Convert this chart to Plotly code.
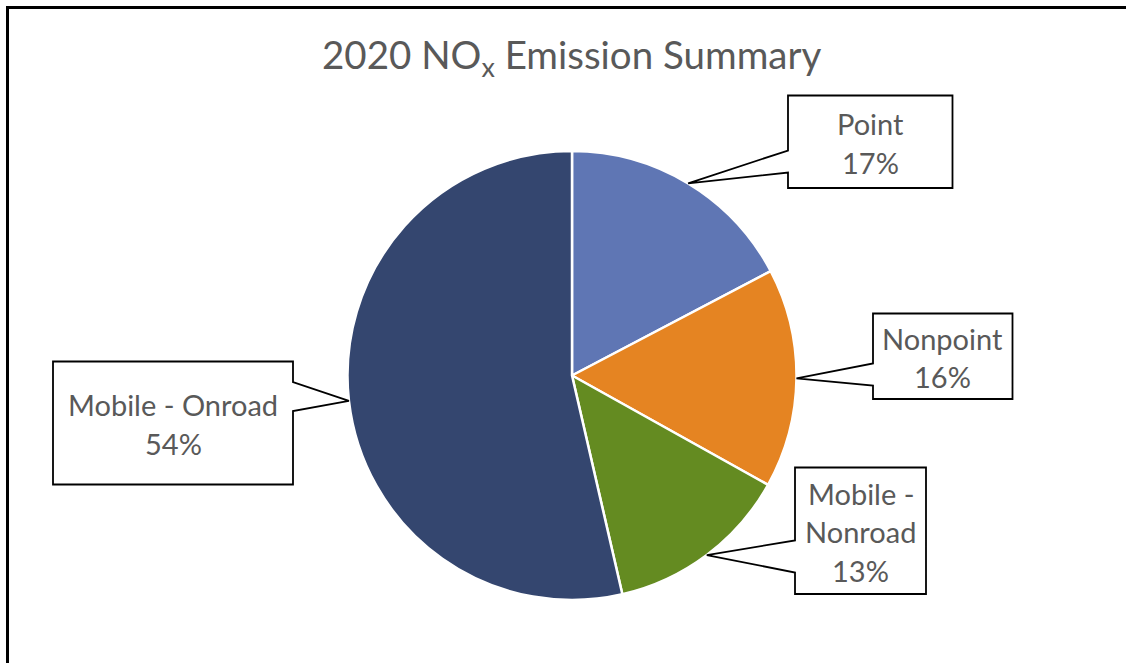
import math
import plotly.graph_objects as go

W, H = 1126, 663

# ---- data ----
categories = ["Point", "Nonpoint", "Mobile - Nonroad", "Mobile - Onroad"]
label_lines = [["Point"], ["Nonpoint"], ["Mobile -", "Nonroad"], ["Mobile - Onroad"]]
values = [17.3, 15.8, 13.3, 53.6]
colors = ["#5F76B4", "#E58422", "#648B21", "#34466F"]

# ---- layout constants (pixels) ----
CX, CY, R = 572, 375.5, 224.5
# box: left, top, right, bottom, side, notch1, notch2
boxes = [
    (788, 95.5, 952.5, 188, "left", 150.5, 172.5),
    (873, 313.5, 1012.5, 399, "left", 363.5, 385.5),
    (795, 467.5, 926, 594, "left", 540.5, 572.5),
    (53, 361.5, 293, 484.5, "right", 382, 411),
]
FONT = "Lato"
TXT = "#595959"


def px(x):
    return x / W


def py(y):
    return 1 - y / H


fig = go.Figure(
    go.Pie(
        labels=categories,
        values=values,
        sort=False,
        direction="clockwise",
        rotation=0,
        marker=dict(colors=colors, line=dict(color="white", width=2.5)),
        textinfo="none",
        textposition="none",
        hoverinfo="label+percent",
        domain=dict(x=[px(CX - R), px(CX + R)], y=[py(CY + R), py(CY - R)]),
        showlegend=False,
    )
)

shapes = []
annotations = []

# outer frame
shapes.append(dict(type="rect", xref="paper", yref="paper",
                   x0=px(7.5), x1=px(W + 20), y0=py(H + 20), y1=py(7.5),
                   line=dict(color="black", width=3), fillcolor="rgba(0,0,0,0)"))

total = sum(values)
cum = 0.0
for cat, lines, v, box in zip(categories, label_lines, values, boxes):
    mid = (cum + v / 2) / total * 2 * math.pi
    cum += v
    tx = CX + R * math.sin(mid)
    ty = CY - R * math.cos(mid)
    l, t, r, b, side, n1, n2 = box
    if side == "left":
        pts = [(l, t), (r, t), (r, b), (l, b), (l, n2), (tx, ty), (l, n1)]
    else:
        pts = [(l, t), (r, t), (r, n1), (tx, ty), (r, n2), (r, b), (l, b)]
    path = "M " + " L ".join(f"{px(x):.5f},{py(y):.5f}" for x, y in pts) + " Z"
    shapes.append(dict(type="path", xref="paper", yref="paper", path=path,
                       line=dict(color="black", width=1.8), fillcolor="white"))
    all_lines = lines + [f"{round(v / total * 100)}%"]
    spacing = 38.5
    cy = (t + b) / 2 + 1.0
    n = len(all_lines)
    for i, s in enumerate(all_lines):
        y = cy + (i - (n - 1) / 2) * spacing
        annotations.append(dict(x=px((l + r) / 2), y=py(y), xref="paper", yref="paper",
                                text=s, showarrow=False, xanchor="center", yanchor="middle",
                                font=dict(family=FONT, size=29, color=TXT)))

annotations.append(dict(x=px(571), y=py(57), xref="paper", yref="paper",
                        text="2020 NO<sub>x</sub> Emission Summary", showarrow=False,
                        xanchor="center", yanchor="middle",
                        font=dict(family=FONT, size=38.5, color=TXT)))

fig.update_layout(
    width=W, height=H,
    margin=dict(l=0, r=0, t=0, b=0),
    paper_bgcolor="white",
    plot_bgcolor="white",
    shapes=shapes,
    annotations=annotations,
)

fig.write_html("out.html")
